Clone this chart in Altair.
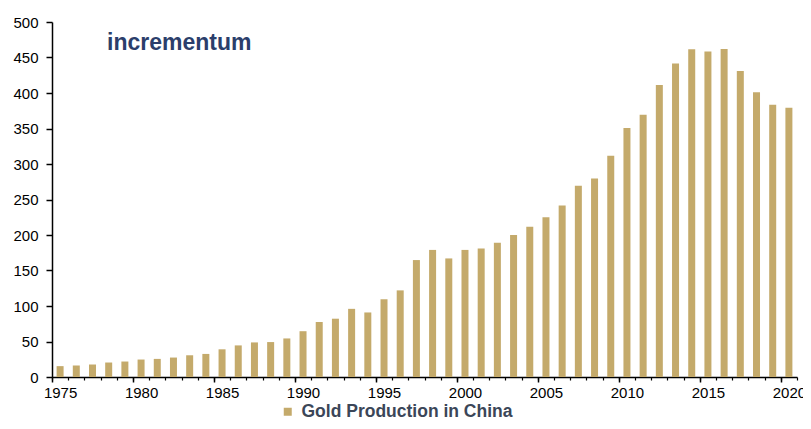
import altair as alt
import pandas as pd

years = list(range(1975, 2021))
production = [15.3, 16.2, 17.6, 20.4, 21.8, 24.6, 25.5, 27.4, 30.6, 32.5,
              39.0, 44.5, 48.7, 49.2, 54.3, 64.5, 77.5, 82.1, 96.0, 90.9,
              109.5, 122.0, 164.7, 179.0, 167.0, 179.0, 180.9, 189.2, 200.0, 211.5,
              225.0, 241.7, 269.5, 279.7, 311.7, 350.6, 369.2, 411.4, 441.6, 461.5,
              458.3, 462.0, 430.9, 401.2, 383.6, 379.4]
series_name = "Gold Production in China"
label_years = list(range(1975, 2021, 5))
minor_ticks = [y - 0.5 for y in range(1975, 2022)]
major_ticks = [y - 0.5 for y in range(1975, 2021, 5)]
y_ticks = list(range(0, 501, 50))

GOLD = "#C4AA6B"
NAVY = "#2B3E6B"
FONT = "Liberation Sans"

df = pd.DataFrame({"year": years, "value": production, "series": [series_name] * len(years)})

xscale = alt.Scale(domain=[1974.5, 2020.5], nice=False, zero=False, padding=0)
yscale = alt.Scale(domain=[0, 500], nice=False, padding=0)

bars = alt.Chart(df).mark_bar(size=7, color=GOLD).encode(
    x=alt.X("year:Q", scale=xscale,
            axis=alt.Axis(values=minor_ticks, labels=False, tickSize=3, tickColor="black",
                          tickWidth=1.2, domainColor="black", domainWidth=1.5, title=None,
                          grid=False, orient="bottom")),
    y=alt.Y("value:Q", scale=yscale,
            axis=alt.Axis(values=y_ticks, tickSize=6, tickColor="black", tickWidth=1.5,
                          domainColor="black", domainWidth=1.5, labelFontSize=15,
                          labelColor="black", labelFont=FONT, labelPadding=8,
                          labelOverlap=False, title=None, grid=False, orient="left")),
    color=alt.Color("series:N", scale=alt.Scale(domain=[series_name], range=[GOLD]),
                    legend=alt.Legend(orient="none", legendX=227, legendY=381, title=None,
                                      symbolType="square", symbolSize=64, symbolStrokeWidth=0,
                                      labelFontSize=17.5, labelFontWeight="bold", labelFont=FONT,
                                      labelColor="#3B4658", labelOffset=5, padding=0,
                                      labelLimit=0)),
)

major = alt.Chart(df).mark_bar(opacity=0).encode(
    x=alt.X("year:Q", scale=xscale,
            axis=alt.Axis(values=major_ticks, labels=False, tickSize=5, tickColor="black",
                          tickWidth=1.5, domain=False, title=None, grid=False, orient="bottom")),
    y=alt.Y("value:Q", scale=yscale, axis=None),
)

labels = alt.Chart(df).mark_bar(opacity=0).encode(
    x=alt.X("year:Q", scale=xscale,
            axis=alt.Axis(values=label_years, format="d", ticks=False, labelPadding=8,
                          labelFontSize=15, labelColor="black", labelFont=FONT,
                          domain=False, title=None, grid=False, orient="bottom",
                          labelOverlap=False, labelBound=False, labelFlush=False)),
    y=alt.Y("value:Q", scale=yscale, axis=None),
)

logo = alt.Chart(pd.DataFrame({"t": ["incrementum"]})).mark_text(
    align="left", baseline="alphabetic", fontSize=23, fontWeight="bold", font=FONT, color=NAVY
).encode(x=alt.value(55), y=alt.value(28), text="t:N")

chart = alt.layer(bars, major, labels, logo).resolve_axis(
    x="independent", y="independent"
).properties(
    width=745, height=355,
    background="white",
    autosize=alt.AutoSizeParams(type="none"),
    padding={"left": 44, "top": 14, "right": 6, "bottom": 44},
).configure_view(stroke="transparent", strokeWidth=0).configure_axis(
    labelFont=FONT, labelFontSize=15, labelColor="black"
)

chart.save("out.html", embed_options={"renderer": "svg", "actions": False})
